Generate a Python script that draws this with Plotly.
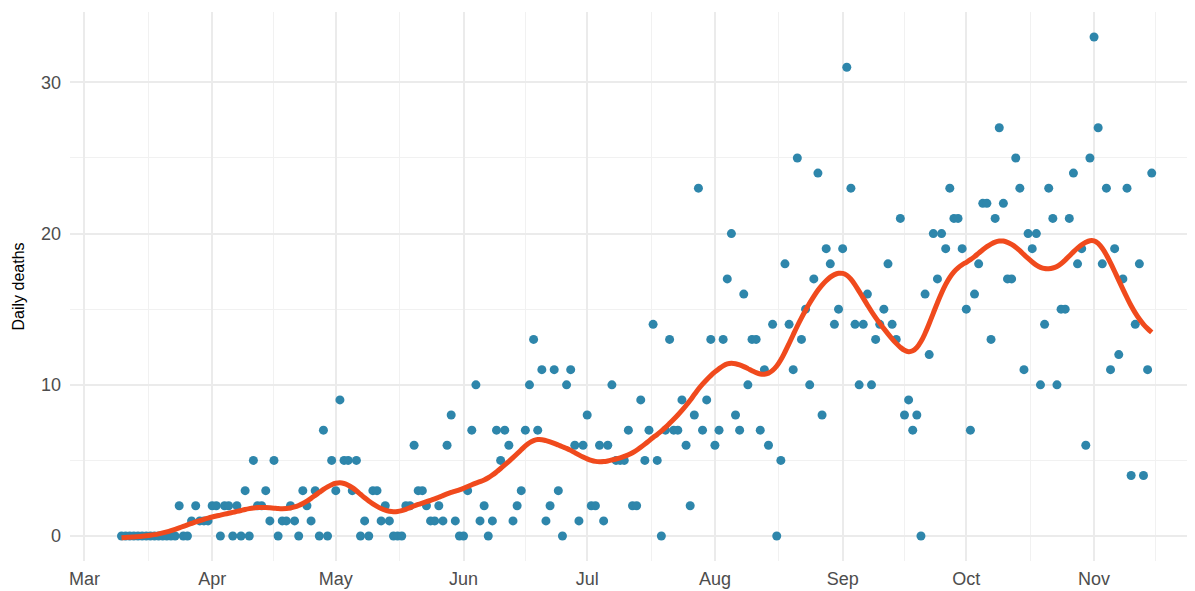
import numpy as np
import pandas as pd
import plotly.graph_objects as go

# ---- data: daily deaths, starting 2020-03-10 (one value per day) ----
start_date = "2020-03-10"
daily_deaths = [
    0, 0, 0, 0, 0, 0, 0, 0, 0, 0, 0, 0, 0, 0,        # Mar 10 - Mar 23
    2, 0, 0, 1, 2, 1, 1, 1,                            # Mar 24 - Mar 31
    2, 2, 0, 2, 2, 0, 2, 0, 3, 0, 5, 2, 2, 3, 1,       # Apr 1 - Apr 15
    5, 0, 1, 1, 2, 1, 0, 3, 2, 1, 3, 0, 7, 0, 5,       # Apr 16 - Apr 30
    3, 9, 5, 5, 3, 5, 0, 1, 0, 3, 3, 1, 2, 1, 0, 0,    # May 1 - May 16
    0, 2, 2, 6, 3, 3, 2, 1, 1, 2, 1, 6, 8, 1, 0,       # May 17 - May 31
    0, 3, 7, 10, 1, 2, 0, 1, 7, 5, 7, 6, 1, 2, 3,      # Jun 1 - Jun 15
    7, 10, 13, 7, 11, 1, 2, 11, 3, 0, 10, 11, 6, 1, 6, # Jun 16 - Jun 30
    8, 2, 2, 6, 1, 6, 10, 5, 5, 5, 7, 2, 2, 9, 5, 7,   # Jul 1 - Jul 16
    14, 5, 0, 7, 13, 7, 7, 9, 6, 2, 8, 23, 7, 9, 13,   # Jul 17 - Jul 31
    6, 7, 13, 17, 20, 8, 7, 16, 10, 13, 13, 7, 11, 6, 14, 0,   # Aug 1 - Aug 16
    5, 18, 14, 11, 25, 13, 15, 10, 17, 24, 8, 19, 18, 14, 15,  # Aug 17 - Aug 31
    19, 31, 23, 14, 10, 14, 16, 10, 13, 14, 15, 18, 14, 13, 21, # Sep 1 - Sep 15
    8, 9, 7, 8, 0, 16, 12, 20, 17, 20, 19, 23, 21, 21, 19,      # Sep 16 - Sep 30
    15, 7, 16, 18, 22, 22, 13, 21, 27, 22, 17, 17, 25, 23, 11, 20, # Oct 1 - Oct 16
    19, 20, 10, 14, 23, 21, 10, 15, 15, 21, 24, 18, 19, 6, 25,      # Oct 17 - Oct 31
    33, 27, 18, 23, 11, 19, 12, 17, 23, 4, 14, 18, 4, 11, 24,       # Nov 1 - Nov 15
]
month_ticks = ["2020-03-01", "2020-04-01", "2020-05-01", "2020-06-01", "2020-07-01",
               "2020-08-01", "2020-09-01", "2020-10-01", "2020-11-01"]
month_labels = ["Mar", "Apr", "May", "Jun", "Jul", "Aug", "Sep", "Oct", "Nov"]
minor_ticks = ["2020-03-16 12:00", "2020-04-16", "2020-05-16 12:00", "2020-06-16",
               "2020-07-16 12:00", "2020-08-16 12:00", "2020-09-16", "2020-10-16 12:00",
               "2020-11-16"]
y_ticks = [0, 10, 20, 30]
y_minor = [5, 15, 25]

dates = pd.date_range(start_date, periods=len(daily_deaths), freq="D")
y = np.array(daily_deaths, dtype=float)
n = len(y)

# ---- smoother: penalised (Whittaker / discrete smoothing spline) fit ----
lam = 280.0
D = np.diff(np.eye(n), n=2, axis=0)
smooth = np.linalg.solve(np.eye(n) + lam * D.T @ D, y)

fig = go.Figure()
fig.add_trace(go.Scatter(
    x=dates, y=y, mode="markers",
    marker=dict(color="#2E86AB", size=9, line=dict(width=0)),
    showlegend=False, hoverinfo="x+y"))
fig.add_trace(go.Scatter(
    x=dates, y=smooth, mode="lines",
    line=dict(color="#F04A1D", width=5, shape="spline"),
    showlegend=False, hoverinfo="skip"))

font_family = "Liberation Sans, Arial, sans-serif"
fig.update_layout(
    width=1187, height=583,
    margin=dict(l=62, r=0, t=4, b=30),
    paper_bgcolor="white", plot_bgcolor="white",
    font=dict(family=font_family, color="#4D4D4D", size=18),
    xaxis=dict(
        type="date",
        range=[pd.Timestamp("2020-03-01") - pd.Timedelta(days=3.5),
               pd.Timestamp("2020-03-01") + pd.Timedelta(days=269.5)],
        tickmode="array", tickvals=month_ticks, ticktext=month_labels,
        showgrid=True, gridcolor="#EBEBEB", gridwidth=1.8,
        minor=dict(tickmode="array", tickvals=minor_ticks, showgrid=True,
                   gridcolor="#F1F1F1", gridwidth=1),
        zeroline=False, showline=False, ticks="",
        tickfont=dict(size=18, color="#4D4D4D"),
        ticklabelstandoff=5,
        fixedrange=True,
    ),
    yaxis=dict(
        range=[-1.65, 34.65],
        tickmode="array", tickvals=y_ticks,
        showgrid=True, gridcolor="#EBEBEB", gridwidth=1.8,
        minor=dict(tickmode="array", tickvals=y_minor, showgrid=True,
                   gridcolor="#F1F1F1", gridwidth=1),
        zeroline=False, showline=False, ticks="",
        tickfont=dict(size=18, color="#4D4D4D"),
        ticklabelstandoff=8,
        title=dict(text="Daily deaths", font=dict(size=16, color="black"), standoff=12),
        fixedrange=True,
    ),
)

fig.write_html("out.html")
